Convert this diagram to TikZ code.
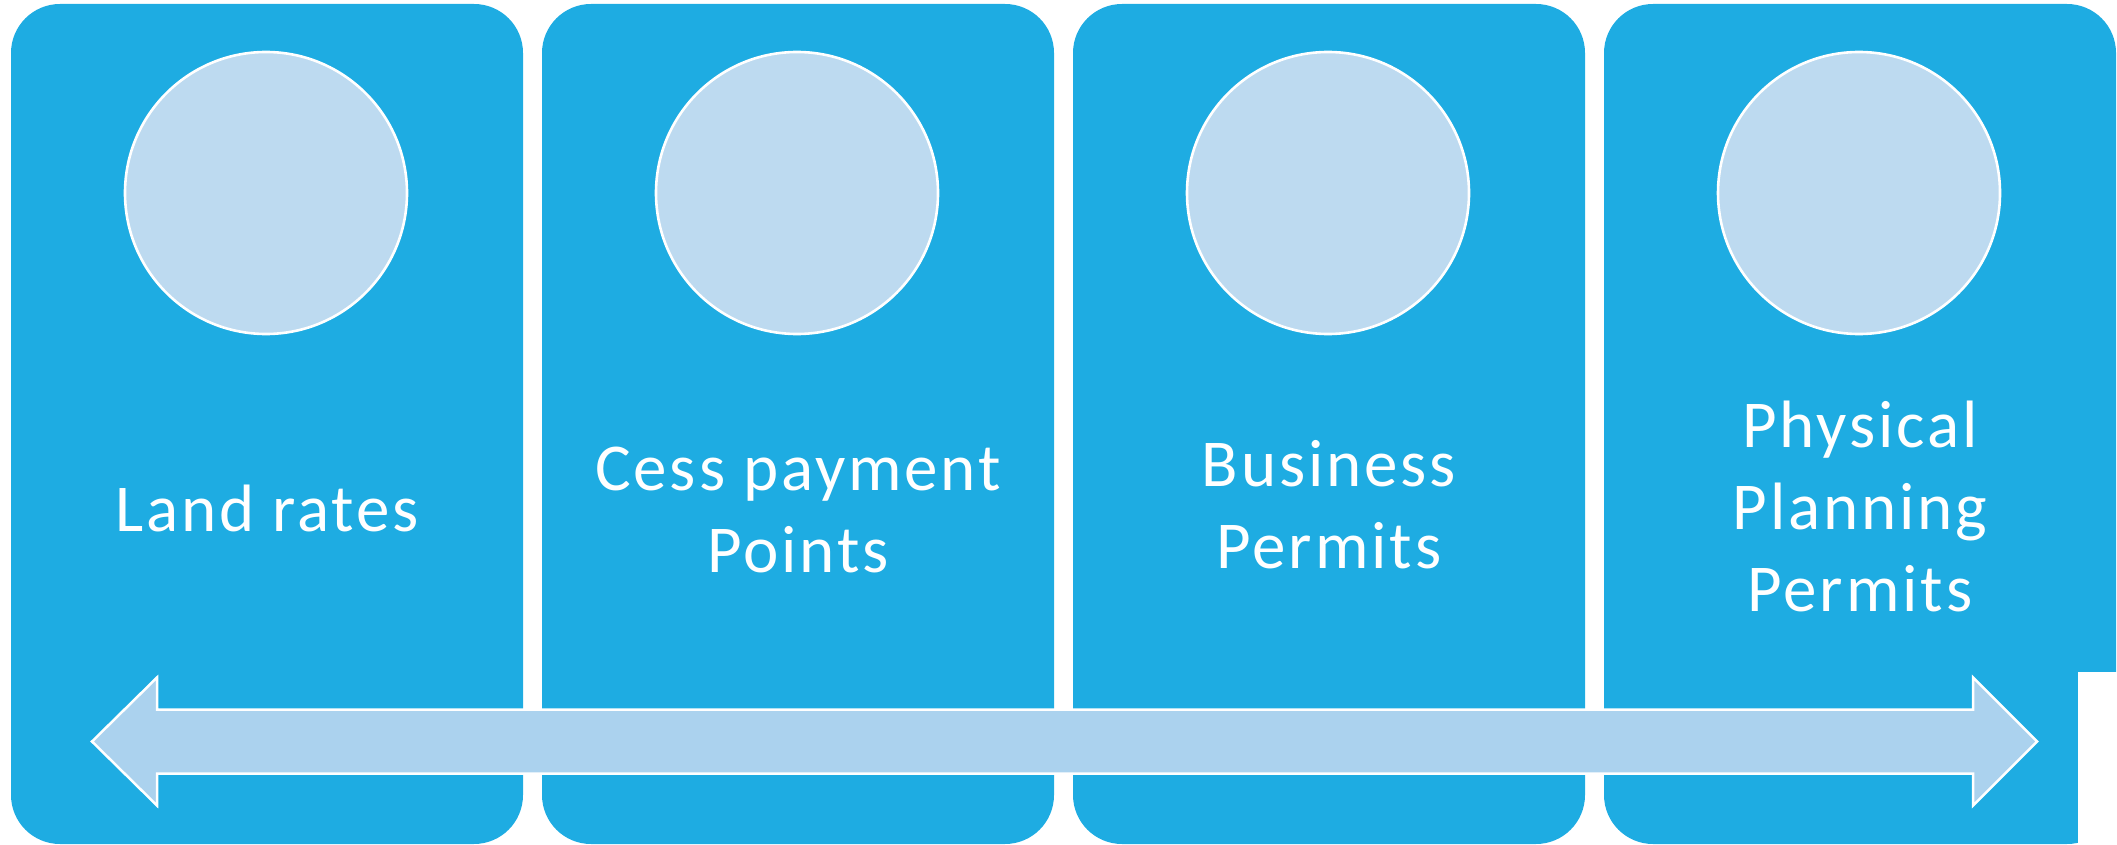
\documentclass[tikz,border=0pt]{standalone}
\usepackage{fontspec}
\setmainfont{Carlito}[LetterSpace=4.3]
\definecolor{panelblue}{RGB}{30,172,226}
\definecolor{discblue}{RGB}{189,218,240}
\definecolor{barblue}{RGB}{171,210,238}
\begin{document}
\begin{tikzpicture}[x=1pt,y=-1pt,
  panel/.style={fill=panelblue,draw=none,rounded corners=49pt,minimum width=512pt,minimum height=840pt,inner sep=0pt},
  disc/.style={circle,fill=discblue,draw=white,line width=2.6pt,minimum size=282pt,inner sep=0pt},
  label/.style={text=white,align=center,font=\fontsize{67}{82}\selectfont,inner sep=0pt,anchor=base},
  bar/.style={fill=barblue,draw=white,line width=2.5pt,line join=miter}]
\useasboundingbox (0,0) rectangle (2117,845);
% four panels
\node[panel] (p1) at (267,424) {};
\node[panel] (p2) at (798,424) {};
\node[panel] (p3) at (1329,424) {};
\node[panel] (p4) at (1860,424) {};
% cut-off white area at the lower right
\fill[white] (2078,672) rectangle (2117,845);
% discs
\node[disc] (c1) at (266,193) {};
\node[disc] (c2) at (797,193) {};
\node[disc] (c3) at (1328,193) {};
\node[disc] (c4) at (1859,193) {};
% labels (anchored at the baseline of the last line)
\node[label] (t1) at (267,531) {Land rates};
\node[label] (t2) at (798,572) {Cess payment\\Points};
\node[label] (t3) at (1329,568) {Business\\Permits};
\node[label] (t4) at (1860,611) {Physical\\Planning\\Permits};
% double-headed bar across the panels
\coordinate (aL) at (92,741.5);
\coordinate (aR) at (2037,741.5);
\draw[bar] (aL) -- ++(65,-64) -- ++(0,32) -- (1973,709.5) -- ++(0,-32) -- (aR)
  -- ++(-64,64) -- ++(0,-32) -- (157,773.5) -- ++(0,32) -- cycle;
\end{tikzpicture}
\end{document}
